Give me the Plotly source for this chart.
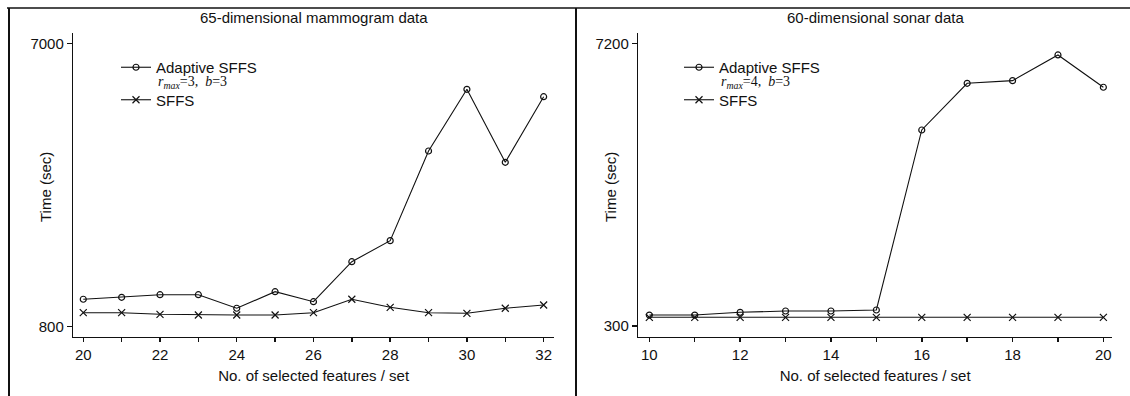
import plotly.graph_objects as go

# ---------------- data ----------------
mam_features = [20, 21, 22, 23, 24, 25, 26, 27, 28, 29, 30, 31, 32]
mam_adaptive = [1400, 1443, 1500, 1500, 1203, 1566, 1347, 2222, 2682, 4644, 5994, 4397, 5832]
mam_sffs = [1106, 1106, 1071, 1056, 1056, 1056, 1106, 1400, 1224, 1106, 1093, 1203, 1275]
mam_xticks = [20, 22, 24, 26, 28, 30, 32]
mam_yticks = [800, 7000]

son_features = [10, 11, 12, 13, 14, 15, 16, 17, 18, 19, 20]
son_adaptive = [568, 568, 634, 666, 666, 691, 5084, 6224, 6288, 6915, 6127]
son_sffs = [512, 512, 512, 512, 512, 512, 512, 512, 512, 512, 512]
son_xticks = [10, 12, 14, 16, 18, 20]
son_yticks = [300, 7200]

mam_title = "65-dimensional mammogram data"
son_title = "60-dimensional sonar data"
x_title = "No. of selected features / set"
y_title = "Time (sec)"
adaptive_name = "Adaptive SFFS"
mam_params = "<i>r</i><sub><i>max</i></sub>=3,  <i>b</i>=3"
son_params = "<i>r</i><sub><i>max</i></sub>=4,  <i>b</i>=3"
sffs_name = "SFFS"

# ---------------- style ----------------
FONT = "Liberation Sans, Arial, sans-serif"
SERIF = "Liberation Serif, Times New Roman, serif"
INK = "#111111"
W, H = 1130, 396
ydom = [1 - 336.7 / H, 1 - 33.3 / H]
left_dom = [73.3 / W, 554 / W]
right_dom = [638.3 / W, 1112 / W]

fig = go.Figure()

circle = dict(symbol="circle-open", size=6, color=INK, line=dict(width=1.2, color=INK))
cross = dict(symbol="x-thin-open", size=7, color=INK, line=dict(width=1.2, color=INK))

fig.add_trace(go.Scatter(x=mam_features, y=mam_adaptive, mode="lines+markers", name=adaptive_name,
                         legendgroup="a", line=dict(color=INK, width=1.1), marker=circle,
                         xaxis="x", yaxis="y", legend="legend"))
fig.add_trace(go.Scatter(x=mam_features, y=mam_sffs, mode="lines+markers", name=sffs_name,
                         legendgroup="s", line=dict(color=INK, width=1.1), marker=cross,
                         xaxis="x", yaxis="y", legend="legend"))
fig.add_trace(go.Scatter(x=son_features, y=son_adaptive, mode="lines+markers", name=adaptive_name,
                         legendgroup="a2", line=dict(color=INK, width=1.1), marker=circle,
                         xaxis="x2", yaxis="y2", legend="legend2"))
fig.add_trace(go.Scatter(x=son_features, y=son_sffs, mode="lines+markers", name=sffs_name,
                         legendgroup="s2", line=dict(color=INK, width=1.1), marker=cross,
                         xaxis="x2", yaxis="y2", legend="legend2"))


def xaxis(dom, feats, ticks, anchor, lo_pad, hi_pad, overlay=None):
    side = "inside" if overlay else "outside"
    d = dict(domain=dom, range=[feats[0] - lo_pad, feats[-1] + hi_pad], anchor=anchor,
             tickmode="array", tickvals=ticks, ticks=side,
             minor=dict(tickmode="linear", tick0=feats[0], dtick=1, ticks=side, ticklen=4,
                        tickwidth=1.5, tickcolor=INK, showgrid=False),
             showgrid=False, zeroline=False, tickcolor=INK, tickwidth=1.5, ticklen=4,
             tickfont=dict(family=FONT, size=15, color=INK), fixedrange=True)
    if overlay:
        d.update(overlaying=overlay, showticklabels=False, showline=False)
    else:
        d.update(showline=True, linecolor=INK, linewidth=1.5,
                 title=dict(text=x_title, standoff=8, font=dict(family=FONT, size=15, color=INK)))
    return d


def yaxis(rng, ticks, anchor, overlay=None):
    d = dict(domain=ydom, range=rng, anchor=anchor, tickmode="array", tickvals=ticks,
             showgrid=False, zeroline=False, tickcolor=INK, tickwidth=1.5,
             tickfont=dict(family=FONT, size=15, color=INK), fixedrange=True)
    if overlay:
        d.update(overlaying=overlay, ticks="inside", ticklen=3, showticklabels=False, showline=False)
    else:
        d.update(ticks="outside", ticklen=5, showline=True, linecolor=INK, linewidth=1.5)
    return d


mam_yr = [581, 7219]
son_yr = [39, 7444]

annotations = []
for dom, ttl in ((left_dom, mam_title), (right_dom, son_title)):
    cx = (dom[0] + dom[1]) / 2
    annotations.append(dict(text=ttl, x=cx, y=1 - 18 / H, xref="paper", yref="paper",
                            showarrow=False, font=dict(family=FONT, size=15, color=INK),
                            xanchor="center", yanchor="middle"))
for xp in (45, 610):
    annotations.append(dict(text=y_title, x=xp / W, y=1 - 187 / H, xref="paper", yref="paper",
                            showarrow=False, textangle=-90, font=dict(family=FONT, size=15, color=INK),
                            xanchor="center", yanchor="middle"))
# parameter sub-lines of the legend entries
for xp, txt in ((156, mam_params), (719, son_params)):
    annotations.append(dict(text=txt, x=xp / W, y=1 - 83 / H, xref="paper", yref="paper",
                            showarrow=False, font=dict(family=SERIF, size=14, color=INK),
                            xanchor="left", yanchor="middle"))

frame = dict(color=INK, width=2)
shapes = [
    dict(type="line", xref="paper", yref="paper", x0=7 / W, x1=1, y0=1 - 8 / H, y1=1 - 8 / H,
         line=dict(color=INK, width=1.5)),
    dict(type="line", xref="paper", yref="paper", x0=9 / W, x1=9 / W, y0=0, y1=1 - 8 / H, line=frame),
    dict(type="line", xref="paper", yref="paper", x0=576 / W, x1=576 / W, y0=0, y1=1 - 8 / H, line=frame),
]

legend_style = dict(font=dict(family=FONT, size=15, color=INK), bgcolor="rgba(0,0,0,0)",
                    xanchor="left", yanchor="top", valign="middle", itemwidth=30,
                    traceorder="grouped", tracegroupgap=10, itemclick=False, itemdoubleclick=False)

fig.update_layout(
    width=W, height=H, margin=dict(l=0, r=0, t=0, b=0, autoexpand=False),
    paper_bgcolor="white", plot_bgcolor="white",
    xaxis=xaxis(left_dom, mam_features, mam_xticks, "y", 0.26, 0.27),
    yaxis=yaxis(mam_yr, mam_yticks, "x"),
    xaxis2=xaxis(right_dom, son_features, son_xticks, "y2", 0.243, 0.19),
    yaxis2=yaxis(son_yr, son_yticks, "x2"),
    xaxis3=xaxis(left_dom, mam_features, mam_xticks, "y", 0.26, 0.27, overlay="x"),
    yaxis3=yaxis(mam_yr, mam_yticks, "x", overlay="y"),
    xaxis4=xaxis(right_dom, son_features, son_xticks, "y2", 0.243, 0.19, overlay="x2"),
    yaxis4=yaxis(son_yr, son_yticks, "x2", overlay="y2"),
    legend=dict(x=116 / W, y=1 - 51 / H, **legend_style),
    legend2=dict(x=679 / W, y=1 - 51 / H, **legend_style),
    annotations=annotations,
    shapes=shapes,
    showlegend=True,
)

fig.write_html("out.html", config={"displayModeBar": False, "staticPlot": True})
